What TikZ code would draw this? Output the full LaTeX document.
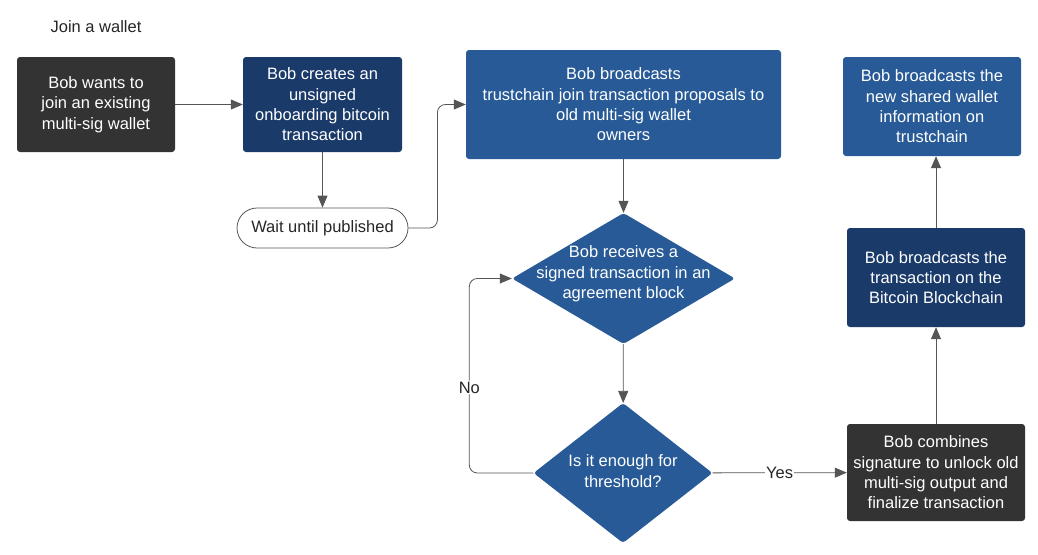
\documentclass[tikz,border=0pt]{standalone}
\usepackage{fontspec}
\setmainfont{Liberation Sans}
\usepackage{tikz}
\usetikzlibrary{shapes.geometric, arrows.meta, shapes}
\definecolor{darkbox}{HTML}{333333}
\definecolor{navybox}{HTML}{1A3A6A}
\definecolor{bluebox}{HTML}{275A96}
\definecolor{linegray}{HTML}{555555}
\tikzset{
  box/.style={rectangle, rounded corners=3pt, draw=none, text=white, align=center, inner sep=0pt, font=\fontsize{16.5}{20.3}\selectfont},
  dia/.style={diamond, rounded corners=3pt, fill=bluebox, inner sep=0pt},
  diatext/.style={text=white, align=center, inner sep=0pt, font=\fontsize{16.5}{20.3}\selectfont},
  arr/.style={-{Triangle[length=12pt,width=10pt]}, linegray, line width=0.8pt},
  lbl/.style={fill=white, text=black!85, inner sep=1pt, font=\fontsize{16.5}{20}\selectfont}
}
\begin{document}
\begin{tikzpicture}[x=1pt, y=-1pt]
\useasboundingbox (0,0) rectangle (1038,554);
\node[text=black!85, font=\fontsize{16.5}{20}\selectfont] (title) at (96,27) {Join a wallet};
\node[box, fill=darkbox, minimum width=158pt, minimum height=95pt] (want) at (96,104.5) {Bob wants to\\join an existing\\multi-sig wallet};
\node[box, fill=navybox, minimum width=159pt, minimum height=95pt] (create) at (322.5,104.5) {Bob creates an\\unsigned\\onboarding bitcoin\\transaction};
\node[draw=linegray, line width=0.8pt, rounded corners=20pt, minimum width=171pt, minimum height=40pt, inner sep=0pt, text=black!85, font=\fontsize{16.5}{20}\selectfont] (wait) at (322.5,228) {Wait until published};
\node[box, fill=bluebox, minimum width=315pt, minimum height=109pt] (propose) at (623.5,104.5) {Bob broadcasts\\trustchain join transaction proposals to\\old multi-sig wallet\\owners};
\node[dia, minimum width=223pt, minimum height=131pt] (receive) at (623.5,278.5) {};
\node[diatext] (receivetext) at (623.5,274) {Bob receives a\\signed transaction in an\\agreement block};
\node[dia, minimum width=179pt, minimum height=140pt] (enough) at (623,473) {};
\node[diatext] (enoughtext) at (623,471) {Is it enough for\\threshold?};
\node[box, fill=darkbox, minimum width=178pt, minimum height=97pt] (combine) at (936,472.5) {Bob combines\\signature to unlock old\\multi-sig output and\\finalize transaction};
\node[box, fill=navybox, minimum width=178pt, minimum height=99pt] (chain) at (936,277.5) {Bob broadcasts the\\transaction on the\\Bitcoin Blockchain};
\node[box, fill=bluebox, minimum width=178pt, minimum height=99pt] (shared) at (932,106.5) {Bob broadcasts the\\new shared wallet\\information on\\trustchain};

\draw[arr] (want) -- (create);
\draw[arr] (create) -- (wait);
\draw[arr, rounded corners=8pt] (wait.east) -- ++(29,0) |- (propose.west);
\draw[arr] (propose) -- (receive);
\draw[arr] (receive) -- (enough);
\draw[arr] (enough) -- node[lbl]{Yes} (combine);
\draw[arr, rounded corners=8pt] (enough.west) -- ++(-64,0) |- node[lbl, pos=0.22]{No} (receive.west);
\draw[arr] (combine) -- (chain);
\draw[arr] (chain.north) -- (chain.north |- shared.south);
\end{tikzpicture}
\end{document}
